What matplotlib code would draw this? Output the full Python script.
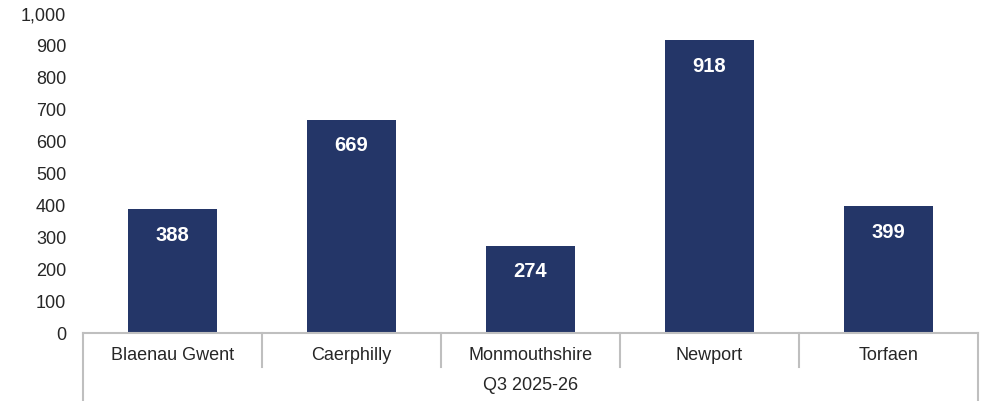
import matplotlib
matplotlib.use("Agg")
import matplotlib.pyplot as plt
from matplotlib.ticker import FuncFormatter

# data
areas = ["Blaenau Gwent", "Caerphilly", "Monmouthshire", "Newport", "Torfaen"]
values = [388, 669, 274, 918, 399]
period = "Q3 2025-26"

bar_col = "#243668"
grey = "#bfbfbf"
txt = "#262626"

plt.rcParams["font.family"] = ["Liberation Sans", "DejaVu Sans"]

fig = plt.figure(figsize=(9.84, 4.01), dpi=100)
ax = fig.add_axes([83/984, 68/401, 895/984, 319/401])

x = list(range(len(areas)))
bars = ax.bar(x, values, width=0.5, color=bar_col, zorder=2)

# labels inside bars, near the top
for xi, v in zip(x, values):
    ax.annotate(str(v), (xi, v), xytext=(0, -19), textcoords="offset points",
                ha="center", va="center", color="white", fontsize=14.5,
                fontweight="bold")

ax.set_xlim(-0.5, len(areas) - 0.5)
ax.set_ylim(0, 1000)
ax.set_yticks(range(0, 1001, 100))
ax.yaxis.set_major_formatter(FuncFormatter(lambda v, p: f"{int(v):,}"))
ax.tick_params(axis="y", length=0, pad=12, labelsize=13, labelcolor=txt)
ax.set_xticks([])

for s in ["top", "right", "left"]:
    ax.spines[s].set_visible(False)
ax.spines["bottom"].set_color(grey)
ax.spines["bottom"].set_linewidth(1.5)

# category axis with separators
h = 319
for i in range(len(areas) + 1):
    bx = i - 0.5
    low = -68 / h if i in (0, len(areas)) else -34 / h
    ax.plot([bx, bx], [0, low], transform=ax.get_xaxis_transform(),
            color=grey, lw=1.5, clip_on=False)

for xi, name in zip(x, areas):
    ax.text(xi, -22.5 / h, name, transform=ax.get_xaxis_transform(),
            ha="center", va="center", fontsize=13, color=txt)

ax.text(0.5, -53 / h, period, transform=ax.transAxes,
        ha="center", va="center", fontsize=13, color=txt)

fig.savefig("out.png", dpi=100)
